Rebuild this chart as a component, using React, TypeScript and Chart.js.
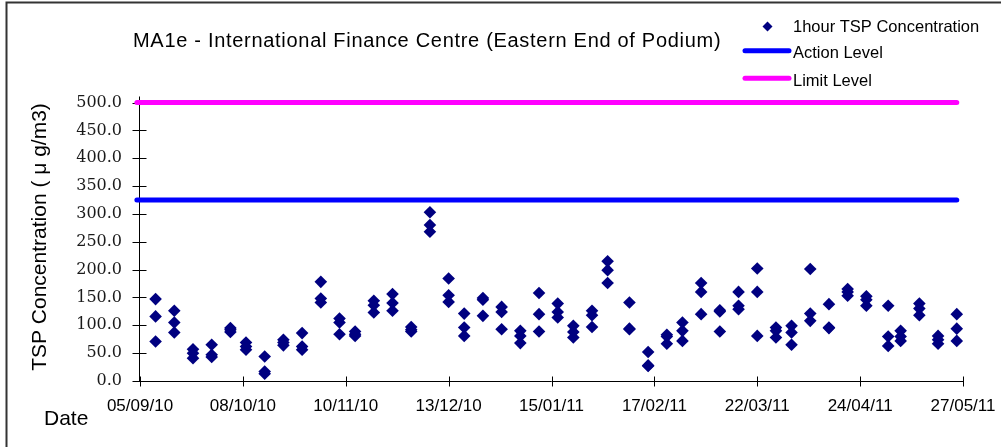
import React, { useEffect, useRef } from "react";
import { Chart, registerables } from "chart.js";

Chart.register(...registerables);

// ---- Data ----
const sampleDates = [
  "2010-09-10", "2010-09-16", "2010-09-22", "2010-09-28", "2010-10-04",
  "2010-10-09", "2010-10-15", "2010-10-21", "2010-10-27", "2010-11-02",
  "2010-11-08", "2010-11-13", "2010-11-19", "2010-11-25", "2010-12-01",
  "2010-12-07", "2010-12-13", "2010-12-18", "2010-12-24", "2010-12-30",
  "2011-01-05", "2011-01-11", "2011-01-17", "2011-01-22", "2011-01-28",
  "2011-02-02", "2011-02-09", "2011-02-15", "2011-02-21", "2011-02-26",
  "2011-03-04", "2011-03-10", "2011-03-16", "2011-03-22", "2011-03-28",
  "2011-04-02", "2011-04-08", "2011-04-14", "2011-04-20", "2011-04-26",
  "2011-05-03", "2011-05-07", "2011-05-13", "2011-05-19", "2011-05-25",
];
const firstHour = [
  147, 126, 57, 65, 95, 69, 44, 74, 86, 178,
  112, 89, 144, 156, 97, 303, 184, 121, 149, 133,
  90, 158, 139, 99, 126, 215, 141, 52, 83, 105,
  176, 127, 160, 202, 96, 99, 201, 138, 165, 152,
  135, 90, 139, 81, 120,
];
const secondHour = [
  116, 105, 50, 47, 92, 62, 17, 69, 62, 148,
  105, 84, 136, 140, 92, 280, 154, 96, 146, 124,
  81, 120, 124, 88, 118, 199, 94, 28, 80, 90,
  160, 125, 135, 160, 90, 87, 121, 96, 160, 146,
  80, 80, 130, 74, 94,
];
const thirdHour = [
  71, 87, 41, 43, 88, 56, 13, 64, 56, 141,
  84, 81, 123, 126, 89, 268, 142, 81, 117, 93,
  68, 89, 114, 78, 97, 176, 93, 27, 67, 72,
  120, 89, 129, 81, 78, 65, 108, 95, 153, 135,
  63, 72, 118, 67, 72,
];
const actionLevel = 325;
const limitLevel = 500;
const levelDates = ["2010-09-04", "2011-05-25"];
const axisStartDate = "2010-09-05";
const tickStepDays = 33;
const xTickLabels = [
  "05/09/10", "08/10/10", "10/11/10", "13/12/10", "15/01/11",
  "17/02/11", "22/03/11", "24/04/11", "27/05/11",
];
const yMax = 500;
const yStep = 50;

const chartTitle = "MA1e - International Finance Centre (Eastern End of Podium)";
const yTitle = "TSP Concentration ( \u03BC g/m3)";
const xTitle = "Date";
const seriesNames = ["1hour TSP Concentration", "Action Level", "Limit Level"];

const NAVY = "#000080";
const BLUE = "#0000FF";
const MAGENTA = "#FF00FF";

function dayOffset(d: string): number {
  return (Date.parse(d) - Date.parse(axisStartDate)) / 86400000;
}

const decor = {
  id: "decor",
  beforeDraw(chart: any) {
    const ctx = chart.ctx;
    ctx.save();
    ctx.fillStyle = "#fff";
    ctx.fillRect(0, 0, chart.width, chart.height);
    ctx.strokeStyle = "#333";
    ctx.lineWidth = 2;
    ctx.beginPath();
    ctx.moveTo(6.5, chart.height);
    ctx.lineTo(6.5, 2.5);
    ctx.lineTo(chart.width, 2.5);
    ctx.stroke();
    ctx.restore();
  },
  beforeDatasetsDraw(chart: any) {
    const { ctx, chartArea } = chart;
    const x = chart.scales.x;
    const y = chart.scales.y;
    ctx.save();
    ctx.strokeStyle = "#000";
    ctx.lineWidth = 1;
    const y0 = Math.round(y.getPixelForValue(0)) + 0.5;
    const x0 = Math.round(chartArea.left) - 0.5;
    ctx.beginPath();
    ctx.moveTo(chartArea.left, y0);
    ctx.lineTo(chartArea.right, y0);
    x.ticks.forEach((t: any) => {
      const px = Math.round(x.getPixelForValue(t.value)) + 0.5;
      ctx.moveTo(px, y0 - 5);
      ctx.lineTo(px, y0 + 5);
    });
    ctx.moveTo(x0, chartArea.top - 6);
    ctx.lineTo(x0, y0);
    y.ticks.forEach((t: any) => {
      const py = Math.round(y.getPixelForValue(t.value)) + 0.5;
      ctx.moveTo(x0 - 7, py);
      ctx.lineTo(x0 + 7, py);
    });
    ctx.stroke();
    ctx.restore();
  },
  afterDraw(chart: any) {
    const ctx = chart.ctx;
    ctx.save();
    ctx.fillStyle = "#000";
    // title
    ctx.font = "20px 'Liberation Sans'";
    (ctx as any).letterSpacing = "0.7px";
    ctx.textAlign = "left";
    ctx.textBaseline = "alphabetic";
    ctx.fillText(chartTitle, 133, 47);
    (ctx as any).letterSpacing = "0px";

    // legend
    ctx.font = "16.5px 'Liberation Sans'";
    ctx.textBaseline = "middle";
    ctx.fillStyle = NAVY;
    ctx.beginPath();
    ctx.moveTo(767.5, 21.5);
    ctx.lineTo(772.5, 26.5);
    ctx.lineTo(767.5, 31.5);
    ctx.lineTo(762.5, 26.5);
    ctx.closePath();
    ctx.fill();
    ctx.fillStyle = "#000";
    ctx.fillText(seriesNames[0], 793, 27);
    ctx.lineCap = "round";
    ctx.lineWidth = 5;
    ctx.strokeStyle = BLUE;
    ctx.beginPath();
    ctx.moveTo(745, 50.7);
    ctx.lineTo(789, 50.7);
    ctx.stroke();
    ctx.fillText(seriesNames[1], 793, 53.5);
    ctx.strokeStyle = MAGENTA;
    ctx.beginPath();
    ctx.moveTo(745, 78.3);
    ctx.lineTo(789, 78.3);
    ctx.stroke();
    ctx.fillText(seriesNames[2], 793, 81);

    // axis titles
    ctx.font = "21px 'Liberation Sans'";
    ctx.textBaseline = "alphabetic";
    ctx.fillText(xTitle, 44, 425);
    ctx.translate(46, 237);
    ctx.rotate(-Math.PI / 2);
    ctx.textAlign = "center";
    ctx.fillText(yTitle, 0, 0);
    ctx.restore();
  },
};

export default function App() {
  const ref = useRef<HTMLCanvasElement>(null);
  useEffect(() => {
    const points: { x: number; y: number }[] = [];
    sampleDates.forEach((d, i) => {
      const xv = dayOffset(d);
      points.push({ x: xv, y: firstHour[i] });
      points.push({ x: xv, y: secondHour[i] });
      points.push({ x: xv, y: thirdHour[i] });
    });
    const levelLine = (v: number) => levelDates.map((d) => ({ x: dayOffset(d), y: v }));
    const xMax = (xTickLabels.length - 1) * tickStepDays;

    const chart = new Chart(ref.current as HTMLCanvasElement, {
      type: "scatter",
      data: {
        datasets: [
          {
            label: seriesNames[1],
            data: levelLine(actionLevel),
            showLine: true,
            borderColor: BLUE,
            backgroundColor: BLUE,
            borderWidth: 5,
            borderCapStyle: "round",
            pointRadius: 0,
            clip: false,
          } as any,
          {
            label: seriesNames[2],
            data: levelLine(limitLevel),
            showLine: true,
            borderColor: MAGENTA,
            backgroundColor: MAGENTA,
            borderWidth: 5,
            borderCapStyle: "round",
            pointRadius: 0,
            clip: false,
          } as any,
          {
            label: seriesNames[0],
            data: points,
            pointStyle: "rectRot",
            pointRadius: 6.3,
            pointBorderWidth: 0,
            backgroundColor: NAVY,
            borderColor: NAVY,
            clip: false,
          } as any,
        ],
      },
      options: {
        animation: false,
        responsive: false,
        devicePixelRatio: 1,
        layout: { padding: { left: 0, right: 38, top: 102.5, bottom: 0 } },
        plugins: {
          legend: { display: false },
          title: { display: false },
          tooltip: { enabled: false },
        },
        scales: {
          x: {
            type: "linear",
            min: 0,
            max: xMax,
            afterBuildTicks: (s: any) => {
              s.ticks = xTickLabels.map((_, i) => ({ value: i * tickStepDays }));
            },
            afterFit: (s: any) => {
              s.height = 66;
              s.paddingLeft = 0;
              s.paddingRight = 0;
            },
            ticks: {
              autoSkip: false,
              maxRotation: 0,
              padding: 15,
              color: "#000",
              font: { family: "'Liberation Sans'", size: 17 },
              callback: (v: any) => xTickLabels[Math.round(Number(v) / tickStepDays)] ?? "",
            },
            grid: { display: false, drawTicks: false },
            border: { display: false },
          },
          y: {
            min: 0,
            max: yMax,
            afterFit: (s: any) => {
              s.width = 140;
              s.paddingTop = 0;
              s.paddingBottom = 0;
            },
            ticks: {
              stepSize: yStep,
              padding: 18,
              color: "#1a1a1a",
              font: { family: "'DejaVu Serif'", size: 16 },
              callback: (v: any) => Number(v).toFixed(1),
            },
            grid: { display: false, drawTicks: false },
            border: { display: false },
          },
        },
      } as any,
      plugins: [decor],
    });
    return () => chart.destroy();
  }, []);

  return (
    <div style={{ position: "absolute", left: 0, top: 0, width: 1001, height: 447 }}>
      <canvas ref={ref} width={1001} height={447} style={{ display: "block" }} />
    </div>
  );
}
